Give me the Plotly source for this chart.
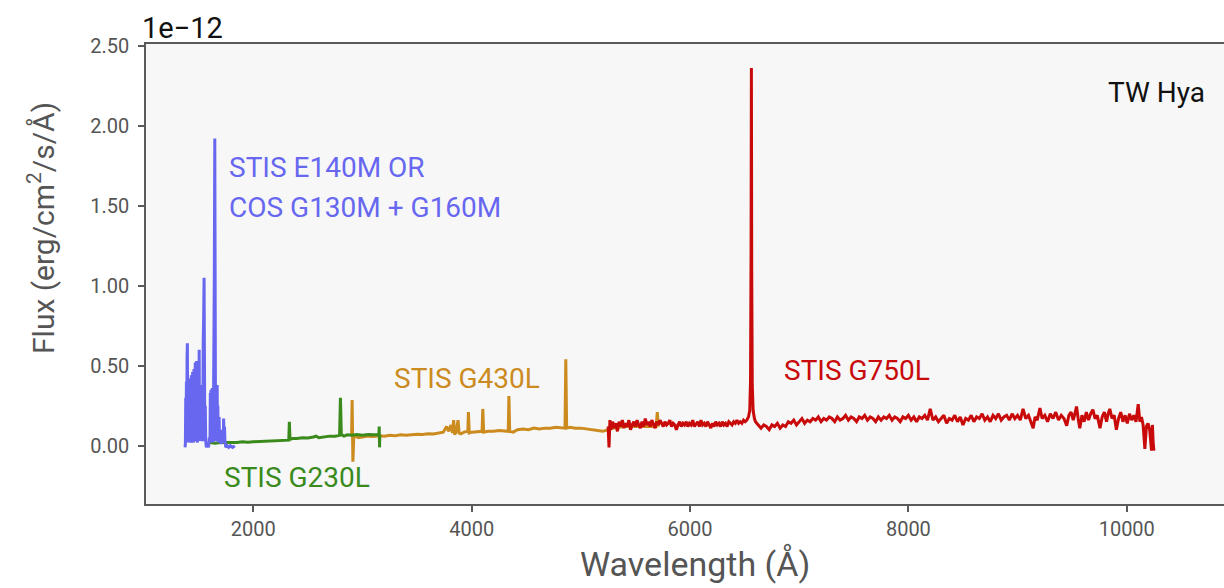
import plotly.graph_objects as go

# ---------------- data (flux in units of 1e-12 erg/cm2/s/A) ----------------
fuv_wave = [1375, 1378, 1381, 1384, 1387, 1390, 1393, 1396, 1399, 1402, 1405, 1408, 1411, 1414,
            1417, 1420, 1423, 1426, 1429, 1432, 1435, 1438, 1441, 1444, 1447, 1450, 1453, 1456,
            1459, 1462, 1465, 1468, 1471, 1474, 1477, 1480, 1483, 1486, 1489, 1492, 1495, 1498,
            1501, 1504, 1507, 1510, 1513, 1516, 1519, 1522, 1525, 1528, 1531, 1534, 1537, 1541,
            1545, 1549, 1553, 1556, 1560, 1564, 1570, 1580, 1590, 1597, 1600, 1603, 1606, 1609,
            1612, 1615, 1618, 1621, 1624, 1627, 1630, 1633, 1636, 1639, 1643, 1647, 1651, 1654,
            1657, 1660, 1663, 1666, 1669, 1672, 1675, 1678, 1681, 1684, 1687, 1690, 1693, 1697,
            1701, 1705, 1710, 1715, 1720, 1725, 1728, 1732, 1736, 1740, 1748, 1760, 1775, 1790,
            1810, 1830]
fuv_flux = [-0.01, 0.02, 0.30, 0.03, 0.40, 0.05, 0.55, 0.64, 0.10, 0.38, 0.02, 0.36, 0.04, 0.40,
            0.03, 0.42, 0.05, 0.38, 0.02, 0.44, 0.04, 0.41, 0.03, 0.46, 0.05, 0.43, 0.02, 0.48,
            0.04, 0.45, 0.03, 0.52, 0.05, 0.47, 0.03, 0.53, 0.04, 0.49, 0.02, 0.50, 0.05, 0.47,
            0.04, 0.60, 0.06, 0.36, 0.03, 0.33, 0.05, 0.38, 0.03, 0.35, 0.04, 0.42, 0.03, 0.65,
            0.80, 1.05, 0.45, 0.06, 0.25, 0.03, -0.01, 0.02, -0.01, 0.05, 0.30, 0.02, 0.33, 0.03,
            0.35, 0.02, 0.31, 0.04, 0.36, 0.03, 0.34, 0.02, 0.38, 0.05, 1.10, 1.92, 0.60, 0.05,
            0.36, 0.03, 0.34, 0.04, 0.38, 0.03, 0.25, 0.02, 0.14, 0.03, 0.18, 0.02, 0.09, 0.02,
            0.10, 0.01, 0.06, 0.02, 0.09, 0.03, 0.17, 0.02, 0.12, 0.03, -0.01, 0.00, -0.01, 0.00,
            -0.01, 0.00]

g230_wave = [1600, 1650, 1700, 1750, 1800, 1850, 1900, 1950, 2000, 2050, 2100, 2150, 2200, 2250,
             2300, 2325, 2330, 2336, 2360, 2400, 2450, 2500, 2550, 2575, 2600, 2650, 2700, 2750,
             2790, 2798, 2806, 2830, 2860, 2900, 2950, 3000, 3050, 3100, 3150, 3153, 3156, 3159]
g230_flux = [0.020, 0.015, 0.020, 0.020, 0.022, 0.020, 0.025, 0.022, 0.025, 0.027, 0.025, 0.030,
             0.030, 0.032, 0.035, 0.035, 0.150, 0.040, 0.045, 0.045, 0.050, 0.048, 0.055, 0.060,
             0.050, 0.055, 0.060, 0.060, 0.065, 0.300, 0.070, 0.060, 0.068, 0.065, 0.070, 0.065,
             0.070, 0.068, 0.070, 0.120, -0.010, 0.070]

g430_wave = [2900, 2905, 2912, 2920, 2940, 2960, 3000, 3050, 3100, 3150, 3200, 3250, 3300, 3350,
             3400, 3450, 3500, 3550, 3600, 3650, 3700, 3740, 3770, 3790, 3810, 3825, 3835, 3845,
             3860, 3875, 3885, 3900, 3930, 3965, 3970, 3978, 4000, 4050, 4095, 4102, 4110, 4150,
             4200, 4250, 4300, 4335, 4341, 4348, 4380, 4420, 4470, 4520, 4570, 4620, 4670, 4720,
             4770, 4820, 4855, 4862, 4870, 4900, 4950, 5000, 5050, 5100, 5150, 5200, 5250, 5300,
             5400, 5500, 5600, 5690, 5700, 5710]
g430_flux = [0.060, 0.285, -0.100, 0.050, 0.060, 0.050, 0.055, 0.060, 0.058, 0.062, 0.060, 0.065,
             0.063, 0.068, 0.066, 0.070, 0.072, 0.070, 0.075, 0.073, 0.080, 0.085, 0.120, 0.090,
             0.130, 0.080, 0.160, 0.070, 0.090, 0.160, 0.080, 0.075, 0.085, 0.090, 0.210, 0.080,
             0.085, 0.090, 0.090, 0.230, 0.085, 0.090, 0.090, 0.095, 0.090, 0.090, 0.310, 0.090,
             0.085, 0.100, 0.105, 0.100, 0.110, 0.105, 0.110, 0.110, 0.115, 0.110, 0.110, 0.540,
             0.110, 0.115, 0.110, 0.110, 0.105, 0.100, 0.095, 0.090, 0.100, 0.110, 0.120, 0.120,
             0.120, 0.120, 0.210, 0.120]

g750_wave = [5250, 5258, 5266, 5275, 5290, 5305, 5320, 5335, 5350, 5365, 5380, 5395, 5410, 5425,
             5440, 5455, 5470, 5485, 5500, 5515, 5530, 5545, 5560, 5575, 5590, 5605, 5620, 5635,
             5650, 5665, 5680, 5695, 5710, 5725, 5740, 5755, 5770, 5785, 5800, 5815, 5830, 5845,
             5860, 5875, 5890, 5905, 5920, 5935, 5950, 5965, 5980, 5995, 6010, 6025, 6040, 6055,
             6070, 6085, 6100, 6115, 6130, 6145, 6160, 6175, 6190, 6205, 6220, 6235, 6250, 6265,
             6280, 6295, 6310, 6325, 6340, 6355, 6370, 6385, 6400, 6415, 6430, 6445, 6460, 6475,
             6490, 6505, 6520, 6535, 6547, 6554, 6559, 6562, 6565, 6570, 6578, 6590,
             6600, 6625, 6650, 6675, 6700, 6725, 6750, 6775, 6800, 6825, 6850, 6875, 6900, 6925,
             6950, 6975, 7000, 7025, 7050, 7075, 7100, 7125, 7150, 7175, 7200, 7225, 7250, 7275,
             7300, 7325, 7350, 7375, 7400, 7425, 7450, 7475, 7500, 7525, 7550, 7575, 7600, 7625,
             7650, 7675, 7700, 7725, 7750, 7775, 7800, 7825, 7850, 7875, 7900, 7925, 7950, 7975,
             8000, 8025, 8050, 8075, 8100, 8125, 8150, 8175, 8200, 8225, 8250, 8275, 8300, 8325,
             8350, 8375, 8400, 8425, 8450, 8475, 8500, 8525, 8550, 8575, 8600, 8625, 8650, 8675,
             8700, 8725, 8750, 8775, 8800, 8825, 8850, 8875, 8900, 8925, 8950, 8975, 9000, 9025,
             9050, 9075, 9100, 9125, 9143, 9160, 9180, 9205, 9225, 9250, 9275,
             9300, 9325, 9350, 9375, 9400, 9425, 9450, 9470, 9490, 9510, 9525, 9540, 9555, 9570,
             9590, 9610, 9630, 9650, 9670, 9690, 9710, 9730, 9755, 9775, 9795, 9815, 9830, 9845,
             9865, 9885, 9905, 9925, 9945, 9965, 9985, 10005, 10025, 10045, 10065, 10085, 10105,
             10120, 10135, 10150, 10166, 10180, 10195, 10210, 10227, 10235, 10242, 10249]
g750_flux = [0.12, -0.01, 0.16, 0.10, 0.15, 0.11, 0.14, 0.09, 0.15, 0.12, 0.16, 0.11, 0.14, 0.12,
             0.16, 0.10, 0.13, 0.15, 0.12, 0.16, 0.13, 0.11, 0.15, 0.12, 0.17, 0.13, 0.15, 0.12,
             0.16, 0.14, 0.11, 0.15, 0.13, 0.16, 0.14, 0.12, 0.15, 0.13, 0.14, 0.16, 0.12, 0.14,
             0.13, 0.10, 0.13, 0.15, 0.12, 0.14, 0.13, 0.15, 0.12, 0.14, 0.13, 0.16, 0.12, 0.14,
             0.15, 0.12, 0.16, 0.13, 0.14, 0.12, 0.15, 0.13, 0.11, 0.14, 0.12, 0.15, 0.13, 0.14,
             0.12, 0.15, 0.13, 0.14, 0.12, 0.15, 0.14, 0.13, 0.15, 0.14, 0.16, 0.14, 0.15, 0.14,
             0.16, 0.15, 0.16, 0.18, 0.22, 0.40, 1.20, 2.36, 1.10, 0.38, 0.22, 0.17,
             0.15, 0.13, 0.11, 0.13, 0.12, 0.10, 0.13, 0.12, 0.14, 0.11, 0.13, 0.12, 0.15, 0.14,
             0.16, 0.13, 0.15, 0.17, 0.14, 0.16, 0.15, 0.17, 0.16, 0.18, 0.15, 0.17, 0.16, 0.18,
             0.17, 0.15, 0.18, 0.16, 0.17, 0.19, 0.16, 0.18, 0.17, 0.15, 0.18, 0.17, 0.19, 0.16,
             0.18, 0.17, 0.15, 0.18, 0.16, 0.18, 0.17, 0.19, 0.16, 0.18, 0.17, 0.15, 0.18, 0.17,
             0.19, 0.16, 0.18, 0.15, 0.18, 0.17, 0.19, 0.16, 0.23, 0.16, 0.18, 0.15, 0.17, 0.19,
             0.14, 0.17, 0.16, 0.19, 0.15, 0.18, 0.13, 0.17, 0.16, 0.19, 0.15, 0.18, 0.17, 0.20,
             0.16, 0.18, 0.15, 0.19, 0.17, 0.20, 0.16, 0.18, 0.19, 0.16, 0.20, 0.17, 0.19, 0.16,
             0.23, 0.17, 0.19, 0.15, 0.11, 0.18, 0.16, 0.235, 0.17, 0.19, 0.15,
             0.20, 0.17, 0.21, 0.16, 0.19, 0.17, 0.125, 0.19, 0.21, 0.16, 0.20, 0.245, 0.17, 0.11,
             0.19, 0.15, 0.21, 0.16, 0.20, 0.225, 0.17, 0.19, 0.11, 0.18, 0.21, 0.15, 0.20, 0.23,
             0.17, 0.19, 0.10, 0.17, 0.21, 0.15, 0.19, 0.14, 0.20, 0.16, 0.19, 0.15, 0.26,
             0.15, 0.18, 0.13, -0.02, 0.12, 0.14, 0.10, -0.03, 0.13, 0.02, -0.03]

x_ticks = [2000, 4000, 6000, 8000, 10000]
y_ticks = [0.0, 0.5, 1.0, 1.5, 2.0, 2.5]

C_FUV = "#6767f0"
C_G230 = "#3a8a1c"
C_G430 = "#cc8b1f"
C_G750 = "#c80a0a"

FONT = "Roboto, Liberation Sans, sans-serif"

fig = go.Figure()
for wv, fl, col in [(g430_wave, g430_flux, C_G430),
                    (g230_wave, g230_flux, C_G230),
                    (g750_wave, g750_flux, C_G750),
                    (fuv_wave, fuv_flux, C_FUV)]:
    fig.add_trace(go.Scatter(x=wv, y=fl, mode="lines",
                             line=dict(color=col, width=3), showlegend=False,
                             hoverinfo="skip"))

ann = [
    dict(text="STIS E140M OR", x=1759, y=1.736, color=C_FUV),
    dict(text="COS G130M + G160M", x=1759, y=1.489, color=C_FUV),
    dict(text="STIS G230L", x=1712, y=-0.20, color=C_G230),
    dict(text="STIS G430L", x=3267, y=0.423, color=C_G430),
    dict(text="STIS G750L", x=6842, y=0.473, color=C_G750),
]
for a in ann:
    fig.add_annotation(x=a["x"], y=a["y"], xref="x", yref="y", text=a["text"],
                       showarrow=False, xanchor="left", yanchor="middle",
                       font=dict(family=FONT, size=28, color=a["color"]))

fig.add_annotation(x=10734, y=2.21, xref="x", yref="y", text="TW Hya", showarrow=False,
                   xanchor="right", yanchor="middle",
                   font=dict(family=FONT, size=28, color="#111111"))

# paper-relative helpers (plot area spans 146px .. 1300px horizontally, 44px .. 504px vertically)
PW, PH = 1300 - 146, 460
fig.add_annotation(x=(140 - 146) / PW, y=(504 - 28) / PH, xref="paper", yref="paper",
                   text="1e\u221212", showarrow=False, xanchor="left", yanchor="middle",
                   font=dict(family=FONT, size=29, color="#111111"))
fig.add_annotation(x=(695 - 146) / PW, y=(504 - 563) / PH, xref="paper", yref="paper",
                   text="Wavelength (Å)", showarrow=False, xanchor="center", yanchor="middle",
                   font=dict(family=FONT, size=34, color="#555555"))
fig.add_annotation(x=(41 - 146) / PW, y=(504 - 228) / PH, xref="paper", yref="paper",
                   text="Flux (erg/cm<sup>2</sup>/s/Å)", textangle=-90,
                   showarrow=False, xanchor="center", yanchor="middle",
                   font=dict(family=FONT, size=30, color="#555555"))

fig.update_layout(
    width=1300, height=588,
    margin=dict(l=146, r=0, t=44, b=84, autoexpand=False),
    paper_bgcolor="white", plot_bgcolor="#f7f7f7",
    font=dict(family=FONT, color="#555555"),
    xaxis=dict(range=[1017, 11587], tickvals=x_ticks, ticktext=[str(v) for v in x_ticks],
               showgrid=False, zeroline=False, showline=True, mirror=True, automargin=False,
               linecolor="#5a5a5a", linewidth=1.5, ticks="outside", ticklen=6,
               tickcolor="#5a5a5a", tickwidth=1.5,
               tickfont=dict(family=FONT, size=20, color="#555555")),
    yaxis=dict(range=[-0.364, 2.51], tickvals=y_ticks, tickformat=".2f",
               showgrid=False, zeroline=False, showline=True, mirror=False, automargin=False,
               linecolor="#5a5a5a", linewidth=1.5, ticks="outside", ticklen=6,
               tickcolor="#5a5a5a", tickwidth=1.5, ticklabelstandoff=5,
               tickfont=dict(family=FONT, size=20, color="#555555")),
)

fig.write_html("out.html", config={"displayModeBar": False},
               post_script="document.body.style.margin='0';document.body.style.overflow='hidden';")
